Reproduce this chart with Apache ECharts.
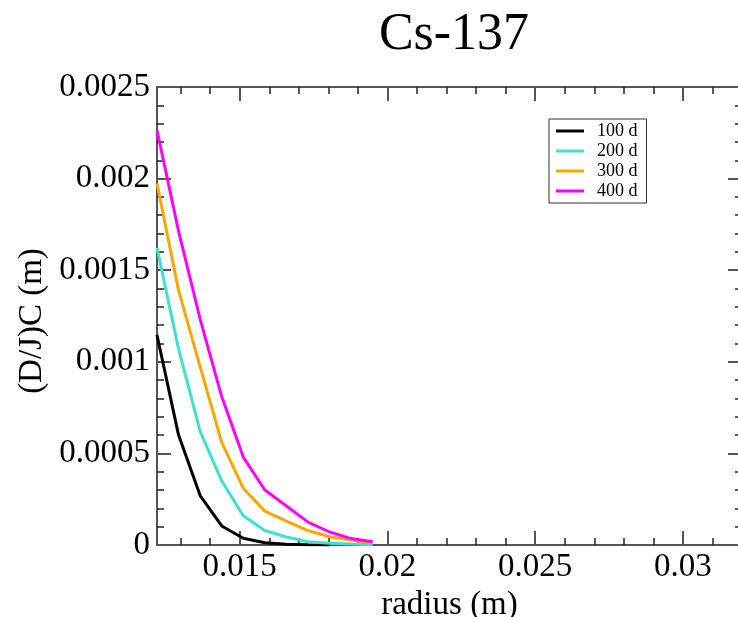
<!DOCTYPE html>
<html>
<head>
<meta charset="utf-8">
<script src="https://cdn.jsdelivr.net/npm/echarts@6/dist/echarts.min.js"></script>
<style>
html,body{margin:0;padding:0;background:#fff;}
#chart{width:738px;height:617px;}
</style>
</head>
<body>
<div id="chart"></div>
<script>
var titleText = 'Cs-137';
var xName = 'radius (m)';
var yName = '(D/J)C (m)';
var seriesNames = ['100 d', '200 d', '300 d', '400 d'];
var seriesColors = ['#000000', '#40e0d0', '#ffa500', '#ff00ff'];

var radius = [0.0122, 0.01293, 0.01366, 0.01439, 0.01512, 0.01585, 0.01658, 0.01731, 0.01804, 0.01877, 0.0195];

var d100 = [0.001146, 0.00060, 0.00027, 0.000104, 0.000037, 0.0000125, 0.000004, 0.000001, 0.0000003];
var d200 = [0.001622, 0.00107, 0.00062, 0.00035, 0.00016, 0.000079, 0.000044, 0.000018, 0.000009, 0.000005, 0.000002];
var d300 = [0.001973, 0.00139, 0.000974, 0.00056, 0.00031, 0.000185, 0.00013, 0.000079, 0.000045, 0.000027, 0.000011];
var d400 = [0.002264, 0.001713, 0.001233, 0.00081, 0.00048, 0.0003, 0.000213, 0.000125, 0.000071, 0.000035, 0.000018];

var xMin = 0.0122, xMax = 0.032;
var xMajorTicks = [0.015, 0.02, 0.025, 0.03];
var xMinorTicks = [0.013, 0.014, 0.016, 0.017, 0.018, 0.019, 0.021, 0.022, 0.023, 0.024, 0.026, 0.027, 0.028, 0.029, 0.031, 0.032];
var yMin = 0, yMax = 0.0025, yStep = 0.0005;

var allData = [d100, d200, d300, d400];

function pairs(xs, ys) {
  var out = [];
  for (var i = 0; i < ys.length; i++) out.push([xs[i], ys[i]]);
  return out;
}

var FONT = 'Liberation Serif';
var axisColor = '#555';

function xAxisDef(pos, major, showLabel) {
  return {
    type: 'value', position: pos, min: xMin, max: xMax,
    gridIndex: 0,
    name: (pos === 'bottom' && major && showLabel) ? xName : '',
    nameLocation: 'middle', nameGap: 35,
    nameTextStyle: {fontFamily: FONT, fontSize: 33, color: '#000'},
    axisLine: {show: major, onZero: false, lineStyle: {color: axisColor, width: 2}},
    axisTick: {show: true, inside: true, length: major ? 14 : 7,
      customValues: major ? xMajorTicks : xMinorTicks,
      lineStyle: {color: major ? axisColor : '#222', width: major ? 2 : 1.5}},
    axisLabel: {show: showLabel, customValues: xMajorTicks, margin: 6,
      fontFamily: FONT, fontSize: 33, color: '#000',
      formatter: function (v) { return String(+(+v).toFixed(4)); }},
    splitLine: {show: false}
  };
}

function yAxisDef(pos, showLabel) {
  return {
    type: 'value', position: pos, min: yMin, max: yMax, interval: yStep,
    name: showLabel ? yName : '',
    nameLocation: 'middle', nameGap: 108,
    nameTextStyle: {fontFamily: FONT, fontSize: 33, color: '#000', padding: [0, 10, 0, 0]},
    axisLine: {show: true, onZero: false, lineStyle: {color: axisColor, width: 2}},
    axisTick: {show: true, inside: true, length: 14, lineStyle: {color: axisColor, width: 2}},
    minorTick: {show: true, splitNumber: 5, length: 7, lineStyle: {color: '#222', width: 1.5}},
    axisLabel: {show: showLabel, inside: false, margin: 7,
      fontFamily: FONT, fontSize: 33, color: '#000',
      formatter: function (v) { return String(+(+v).toFixed(4)); }},
    splitLine: {show: false},
    minorSplitLine: {show: false}
  };
}

var series = [];
for (var s = 0; s < allData.length; s++) {
  series.push({
    name: seriesNames[s], type: 'line', xAxisIndex: 0, yAxisIndex: 0,
    data: pairs(radius, allData[s]),
    showSymbol: false, symbol: 'none', smooth: false,
    color: seriesColors[s],
    lineStyle: {color: seriesColors[s], width: 3},
    z: 3
  });
}

var chart = echarts.init(document.getElementById('chart'), null, {renderer: 'canvas'});
chart.setOption({
  animation: false,
  backgroundColor: '#fff',
  title: {
    text: titleText, left: 449, top: 4, textAlign: 'center',
    textStyle: {fontFamily: FONT, fontSize: 52, fontWeight: 'normal', color: '#000'}
  },
  legend: {
    orient: 'vertical', left: 549, top: 119,
    data: seriesNames,
    icon: 'rect', itemWidth: 28, itemHeight: 3, itemGap: 2,
    padding: [3, 9, 3, 7],
    borderColor: '#333', borderWidth: 1, backgroundColor: '#fff',
    textStyle: {fontFamily: FONT, fontSize: 18, lineHeight: 17, color: '#000', padding: [0, 0, 0, 8]}
  },
  grid: {left: 157, top: 87, width: 585, height: 458, containLabel: false, outerBoundsMode: 'none'},
  xAxis: [
    xAxisDef('bottom', true, true),
    xAxisDef('bottom', false, false),
    xAxisDef('top', true, false),
    xAxisDef('top', false, false)
  ],
  yAxis: [
    yAxisDef('left', true),
    yAxisDef('right', false)
  ],
  series: series
});
</script>
</body>
</html>
